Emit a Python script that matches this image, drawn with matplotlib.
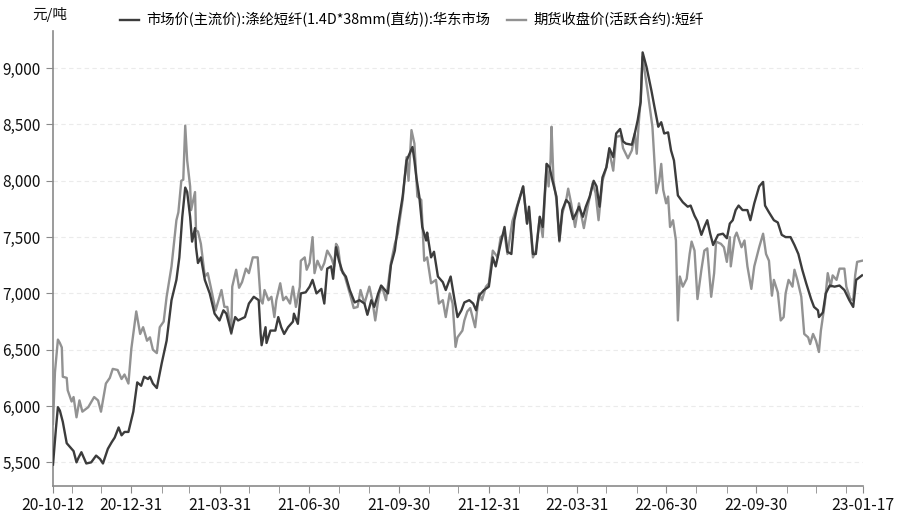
import matplotlib
matplotlib.use("Agg")
import matplotlib.pyplot as plt
import matplotlib.dates as mdates
from matplotlib.ticker import FuncFormatter, FixedLocator
import pandas as pd

plt.rcParams['font.family'] = ['Noto Sans CJK SC', 'DejaVu Sans']

series1_name = "市场价(主流价):涤纶短纤(1.4D*38mm(直纺)):华东市场"
series2_name = "期货收盘价(活跃合约):短纤"
y_unit = "元/吨"

dates1 = [
    "2020-10-12", "2020-10-15", "2020-10-17", "2020-10-19", "2020-10-22", "2020-10-26", "2020-10-31",
    "2020-11-02", "2020-11-05", "2020-11-07", "2020-11-10", "2020-11-12", "2020-11-15", "2020-11-20",
    "2020-11-25", "2020-11-29", "2020-12-02", "2020-12-07", "2020-12-11", "2020-12-14", "2020-12-18",
    "2020-12-21", "2020-12-24", "2020-12-28", "2021-01-02", "2021-01-06", "2021-01-10", "2021-01-13",
    "2021-01-17", "2021-01-19", "2021-01-22", "2021-01-26", "2021-01-31", "2021-02-05", "2021-02-10",
    "2021-02-15", "2021-02-18", "2021-02-21", "2021-02-24", "2021-02-26", "2021-03-01", "2021-03-03",
    "2021-03-06", "2021-03-07", "2021-03-09", "2021-03-12", "2021-03-16", "2021-03-21", "2021-03-26",
    "2021-03-31", "2021-04-04", "2021-04-07", "2021-04-12", "2021-04-16", "2021-04-19", "2021-04-26",
    "2021-04-30", "2021-05-05", "2021-05-10", "2021-05-12", "2021-05-13", "2021-05-17", "2021-05-18",
    "2021-05-22", "2021-05-27", "2021-05-30", "2021-06-02", "2021-06-05", "2021-06-09", "2021-06-14",
    "2021-06-15", "2021-06-19", "2021-06-22", "2021-06-27", "2021-07-01", "2021-07-04", "2021-07-08",
    "2021-07-13", "2021-07-16", "2021-07-19", "2021-07-23", "2021-07-25", "2021-07-28", "2021-07-31",
    "2021-08-04", "2021-08-07", "2021-08-11", "2021-08-16", "2021-08-21", "2021-08-26", "2021-08-29",
    "2021-09-02", "2021-09-05", "2021-09-09", "2021-09-12", "2021-09-15", "2021-09-19", "2021-09-22",
    "2021-09-26", "2021-09-29", "2021-10-04", "2021-10-08", "2021-10-11", "2021-10-14", "2021-10-16",
    "2021-10-18", "2021-10-21", "2021-10-24", "2021-10-28", "2021-10-29", "2021-11-02", "2021-11-05",
    "2021-11-09", "2021-11-14", "2021-11-17", "2021-11-22", "2021-11-26", "2021-11-29", "2021-12-03",
    "2021-12-06", "2021-12-11", "2021-12-15", "2021-12-18", "2021-12-21", "2021-12-26", "2021-12-31",
    "2022-01-04", "2022-01-07", "2022-01-12", "2022-01-16", "2022-01-19", "2022-01-23", "2022-01-26",
    "2022-01-29", "2022-02-04", "2022-02-08", "2022-02-10", "2022-02-14", "2022-02-17", "2022-02-21",
    "2022-02-24", "2022-02-28", "2022-03-03", "2022-03-06", "2022-03-10", "2022-03-13", "2022-03-16",
    "2022-03-20", "2022-03-23", "2022-03-27", "2022-03-30", "2022-04-02", "2022-04-06", "2022-04-09",
    "2022-04-13", "2022-04-17", "2022-04-20", "2022-04-23", "2022-04-26", "2022-04-30", "2022-05-03",
    "2022-05-07", "2022-05-10", "2022-05-14", "2022-05-17", "2022-05-20", "2022-05-26", "2022-05-29",
    "2022-06-01", "2022-06-04", "2022-06-06", "2022-06-10", "2022-06-15", "2022-06-18", "2022-06-22",
    "2022-06-25", "2022-06-28", "2022-07-02", "2022-07-05", "2022-07-08", "2022-07-12", "2022-07-17",
    "2022-07-22", "2022-07-25", "2022-07-29", "2022-08-01", "2022-08-05", "2022-08-08", "2022-08-11",
    "2022-08-14", "2022-08-17", "2022-08-22", "2022-08-27", "2022-08-31", "2022-09-03", "2022-09-06",
    "2022-09-09", "2022-09-12", "2022-09-16", "2022-09-21", "2022-09-24", "2022-09-28", "2022-10-03",
    "2022-10-07", "2022-10-09", "2022-10-13", "2022-10-18", "2022-10-22", "2022-10-26", "2022-10-30",
    "2022-11-04", "2022-11-08", "2022-11-12", "2022-11-16", "2022-11-20", "2022-11-25", "2022-11-28",
    "2022-12-02", "2022-12-03", "2022-12-07", "2022-12-10", "2022-12-14", "2022-12-19", "2022-12-24",
    "2022-12-29", "2023-01-03", "2023-01-07", "2023-01-10", "2023-01-16",
]
market_price = [
    5480, 5800, 5990, 5960, 5860, 5670, 5620,
    5600, 5500, 5540, 5590, 5550, 5490, 5500,
    5560, 5530, 5490, 5620, 5680, 5720, 5810,
    5740, 5770, 5770, 5950, 6210, 6180, 6260,
    6240, 6260, 6200, 6160, 6380, 6580, 6940,
    7120, 7320, 7680, 7940, 7900, 7680, 7460,
    7580, 7410, 7270, 7320, 7120, 7000, 6820,
    6760, 6850, 6820, 6650, 6790, 6760, 6790,
    6910, 6970, 6940, 6640, 6540, 6700, 6560,
    6670, 6670, 6790, 6700, 6640, 6700, 6750,
    6820, 6730, 7000, 7010, 7060, 7120, 7000,
    7040, 6910, 7220, 7240, 7130, 7410, 7290,
    7180, 7150, 7030, 6920, 6940, 6910, 6810,
    6940, 6880, 7000, 7070, 7040, 7000, 7250,
    7380, 7590, 7860, 8180, 8240, 8300, 8180,
    8030, 7860, 7590, 7470, 7540, 7320, 7370,
    7150, 7100, 7030, 7150, 6940, 6790, 6850,
    6920, 6940, 6910, 6850, 6980, 7030, 7060,
    7320, 7240, 7440, 7590, 7370, 7350, 7650,
    7770, 7950, 7620, 7770, 7350, 7350, 7680,
    7590, 8150, 8120, 8000, 7860, 7470, 7740,
    7830, 7800, 7660, 7710, 7770, 7680, 7770,
    7860, 8000, 7950, 7770, 8030, 8120, 8290,
    8210, 8420, 8460, 8350, 8330, 8320, 8420,
    8540, 8700, 9140, 9010, 8800, 8660, 8480,
    8520, 8420, 8430, 8270, 8180, 7870, 7810,
    7770, 7780, 7690, 7640, 7520, 7590, 7650,
    7530, 7430, 7520, 7530, 7490, 7620, 7650,
    7740, 7780, 7740, 7740, 7650, 7800, 7950,
    7990, 7780, 7720, 7650, 7630, 7520, 7500,
    7500, 7430, 7350, 7210, 7090, 6950, 6880,
    6850, 6790, 6830, 7000, 7070, 7060, 7070,
    7030, 6940, 6880, 7120, 7160,
]

dates2 = [
    "2020-10-12", "2020-10-14", "2020-10-17", "2020-10-19", "2020-10-21", "2020-10-22", "2020-10-26",
    "2020-10-27", "2020-10-31", "2020-11-02", "2020-11-05", "2020-11-08", "2020-11-11", "2020-11-17",
    "2020-11-23", "2020-11-27", "2020-11-30", "2020-12-05", "2020-12-09", "2020-12-12", "2020-12-17",
    "2020-12-21", "2020-12-24", "2020-12-28", "2020-12-31", "2021-01-05", "2021-01-09", "2021-01-12",
    "2021-01-16", "2021-01-19", "2021-01-22", "2021-01-26", "2021-01-29", "2021-02-02", "2021-02-05",
    "2021-02-10", "2021-02-15", "2021-02-17", "2021-02-20", "2021-02-22", "2021-02-24", "2021-02-26",
    "2021-03-01", "2021-03-02", "2021-03-06", "2021-03-07", "2021-03-09", "2021-03-12", "2021-03-16",
    "2021-03-19", "2021-03-22", "2021-03-27", "2021-04-02", "2021-04-05", "2021-04-08", "2021-04-12",
    "2021-04-13", "2021-04-17", "2021-04-20", "2021-04-23", "2021-04-27", "2021-04-30", "2021-05-04",
    "2021-05-09", "2021-05-12", "2021-05-14", "2021-05-16", "2021-05-20", "2021-05-23", "2021-05-26",
    "2021-05-28", "2021-06-01", "2021-06-04", "2021-06-07", "2021-06-11", "2021-06-14", "2021-06-17",
    "2021-06-21", "2021-06-22", "2021-06-26", "2021-06-28", "2021-07-01", "2021-07-04", "2021-07-06",
    "2021-07-09", "2021-07-13", "2021-07-16", "2021-07-19", "2021-07-23", "2021-07-26", "2021-07-28",
    "2021-07-30", "2021-08-02", "2021-08-05", "2021-08-09", "2021-08-12", "2021-08-15", "2021-08-19",
    "2021-08-22", "2021-08-26", "2021-08-31", "2021-09-03", "2021-09-06", "2021-09-10", "2021-09-13",
    "2021-09-17", "2021-09-22", "2021-09-26", "2021-09-29", "2021-10-04", "2021-10-08", "2021-10-10",
    "2021-10-13", "2021-10-16", "2021-10-19", "2021-10-23", "2021-10-26", "2021-10-29", "2021-11-02",
    "2021-11-07", "2021-11-10", "2021-11-14", "2021-11-17", "2021-11-21", "2021-11-24", "2021-11-27",
    "2021-11-29", "2021-12-04", "2021-12-06", "2021-12-09", "2021-12-12", "2021-12-17", "2021-12-21",
    "2021-12-24", "2021-12-28", "2021-12-31", "2022-01-04", "2022-01-09", "2022-01-12", "2022-01-16",
    "2022-01-19", "2022-01-24", "2022-02-04", "2022-02-08", "2022-02-10", "2022-02-14", "2022-02-17",
    "2022-02-21", "2022-02-24", "2022-02-28", "2022-03-02", "2022-03-04", "2022-03-05", "2022-03-07",
    "2022-03-10", "2022-03-13", "2022-03-16", "2022-03-20", "2022-03-22", "2022-03-25", "2022-03-29",
    "2022-04-02", "2022-04-07", "2022-04-11", "2022-04-16", "2022-04-19", "2022-04-22", "2022-04-26",
    "2022-04-30", "2022-05-03", "2022-05-07", "2022-05-10", "2022-05-15", "2022-05-17", "2022-05-22",
    "2022-05-26", "2022-05-29", "2022-05-31", "2022-06-02", "2022-06-04", "2022-06-06", "2022-06-11",
    "2022-06-16", "2022-06-20", "2022-06-23", "2022-06-25", "2022-06-27", "2022-06-30", "2022-07-02",
    "2022-07-04", "2022-07-07", "2022-07-10", "2022-07-12", "2022-07-14", "2022-07-17", "2022-07-21",
    "2022-07-24", "2022-07-26", "2022-07-29", "2022-08-01", "2022-08-05", "2022-08-08", "2022-08-11",
    "2022-08-15", "2022-08-18", "2022-08-20", "2022-08-25", "2022-08-28", "2022-08-31", "2022-09-03",
    "2022-09-04", "2022-09-08", "2022-09-10", "2022-09-15", "2022-09-18", "2022-09-21", "2022-09-25",
    "2022-09-28", "2022-10-03", "2022-10-07", "2022-10-10", "2022-10-13", "2022-10-16", "2022-10-18",
    "2022-10-22", "2022-10-25", "2022-10-28", "2022-10-30", "2022-11-02", "2022-11-06", "2022-11-08",
    "2022-11-11", "2022-11-15", "2022-11-18", "2022-11-22", "2022-11-24", "2022-11-27", "2022-11-30",
    "2022-12-03", "2022-12-05", "2022-12-09", "2022-12-12", "2022-12-15", "2022-12-17", "2022-12-21",
    "2022-12-24", "2022-12-29", "2022-12-31", "2023-01-04", "2023-01-07", "2023-01-09", "2023-01-11",
    "2023-01-16",
]
futures_price = [
    5840, 6300, 6590, 6560, 6520, 6260, 6250,
    6140, 6040, 6080, 5900, 6050, 5950, 5990,
    6080, 6050, 5950, 6200, 6250, 6330, 6320,
    6240, 6280, 6200, 6510, 6840, 6640, 6700,
    6580, 6610, 6500, 6470, 6700, 6750, 6970,
    7240, 7650, 7720, 8000, 8010, 8490, 8180,
    7950, 7740, 7900, 7560, 7550, 7440, 7150,
    7180, 7060, 6850, 7030, 6880, 6880, 6640,
    7060, 7210, 7050, 7100, 7220, 7180, 7320,
    7320, 6940, 6910, 7030, 6940, 6970, 6790,
    6940, 7090, 6940, 6970, 6910, 7060, 6880,
    7060, 7290, 7320, 7210, 7270, 7500, 7180,
    7290, 7210, 7270, 7380, 7320, 7240, 7440,
    7410, 7210, 7180, 7060, 6970, 6870, 6880,
    7030, 6910, 7060, 6940, 6760, 7000, 7060,
    6940, 7270, 7440, 7530, 7830, 8210, 8000,
    8450, 8330, 7860, 7830, 7290, 7320, 7090,
    7120, 6910, 6940, 6790, 7000, 6910, 6525,
    6610, 6670, 6760, 6840, 6870, 6700, 7000,
    6940, 7060, 7090, 7380, 7320, 7500, 7530,
    7350, 7640, 7950, 7620, 7740, 7320, 7380,
    7680, 7500, 8150, 7950, 8180, 8480, 8000,
    7830, 7460, 7710, 7830, 7930, 7800, 7590,
    7800, 7580, 7770, 7980, 7890, 7650, 8000,
    8120, 8260, 8090, 8390, 8400, 8290, 8200,
    8270, 8420, 8240, 8510, 8720, 9100, 8800,
    8480, 7890, 8000, 8150, 7920, 7800, 7860,
    7590, 7650, 7470, 6760, 7150, 7060, 7130,
    7350, 7460, 7380, 6950, 7210, 7380, 7400,
    6970, 7180, 7460, 7440, 7410, 7280, 7500,
    7240, 7500, 7540, 7410, 7470, 7240, 7040,
    7240, 7410, 7530, 7350, 7290, 6980, 7120,
    7010, 6760, 6790, 7000, 7120, 7060, 7210,
    7120, 6970, 6640, 6610, 6550, 6640, 6580,
    6480, 6670, 6910, 7180, 7060, 7160, 7120,
    7220, 7220, 7060, 6950, 6940, 7160, 7280,
    7290,
]

y_ticks = [5500, 6000, 6500, 7000, 7500, 8000, 8500, 9000]
x_major = ["2020-10-12", "2020-12-31", "2021-03-31", "2021-06-30", "2021-09-30",
           "2021-12-31", "2022-03-31", "2022-06-30", "2022-09-30", "2023-01-17"]
x_minor = ["2020-10-31", "2020-11-30", "2021-01-31", "2021-02-28", "2021-04-30", "2021-05-31",
           "2021-07-31", "2021-08-31", "2021-10-31", "2021-11-30", "2022-01-31", "2022-02-28",
           "2022-04-30", "2022-05-31", "2022-07-31", "2022-08-31", "2022-10-31", "2022-11-30",
           "2022-12-31"]

d1 = pd.to_datetime(dates1)
d2 = pd.to_datetime(dates2)

fig = plt.figure(figsize=(9, 5.18), dpi=100)
ax = fig.add_axes([53/900, (518-486)/518, (863-53)/900, (486-31)/518])

l1, = ax.plot(d1, market_price, color="#3c3c3c", lw=1.7, label=series1_name, zorder=3)
l2, = ax.plot(d2, futures_price, color="#929292", lw=1.7, label=series2_name, zorder=2)

ax.set_xlim(pd.Timestamp("2020-10-12"), pd.Timestamp("2023-01-17"))
ax.set_ylim(5290, 9330)

ax.set_yticks(y_ticks)
ax.yaxis.set_major_formatter(FuncFormatter(lambda v, p: f"{int(v):,}"))
ax.grid(axis="y", color="#ebebeb", linestyle=(0, (4, 3)), linewidth=0.8)
ax.set_axisbelow(True)

xm = pd.to_datetime(x_major)
ax.xaxis.set_major_locator(FixedLocator(mdates.date2num(xm)))
ax.xaxis.set_major_formatter(FuncFormatter(lambda v, p: mdates.num2date(v).strftime("%y-%m-%d")))
ax.xaxis.set_minor_locator(FixedLocator(mdates.date2num(pd.to_datetime(x_minor))))

for s in ["top", "right"]:
    ax.spines[s].set_visible(False)
for s in ["left", "bottom"]:
    ax.spines[s].set_color("#8a8a8a")
    ax.spines[s].set_linewidth(1.2)

ax.tick_params(axis="y", direction="out", length=5, color="#8a8a8a", labelsize=11, pad=4,
               labelcolor="#111111")
ax.tick_params(axis="x", which="major", direction="out", length=5, color="#8a8a8a",
               labelsize=11.3, pad=3, labelcolor="#111111")
ax.tick_params(axis="x", which="minor", direction="out", length=5, color="#8a8a8a")

fig.text(50/900, 1 - 15/518, y_unit, ha="center", va="center", fontsize=10.5, color="#111111")

fig.legend(handles=[l1, l2], loc="center", bbox_to_anchor=(412/900, 1 - 20/518), ncol=2,
           frameon=False, fontsize=10.3, handlelength=1.3, handletextpad=0.5, columnspacing=1.2,
           borderaxespad=0, borderpad=0)

fig.savefig("out.png", dpi=100)
